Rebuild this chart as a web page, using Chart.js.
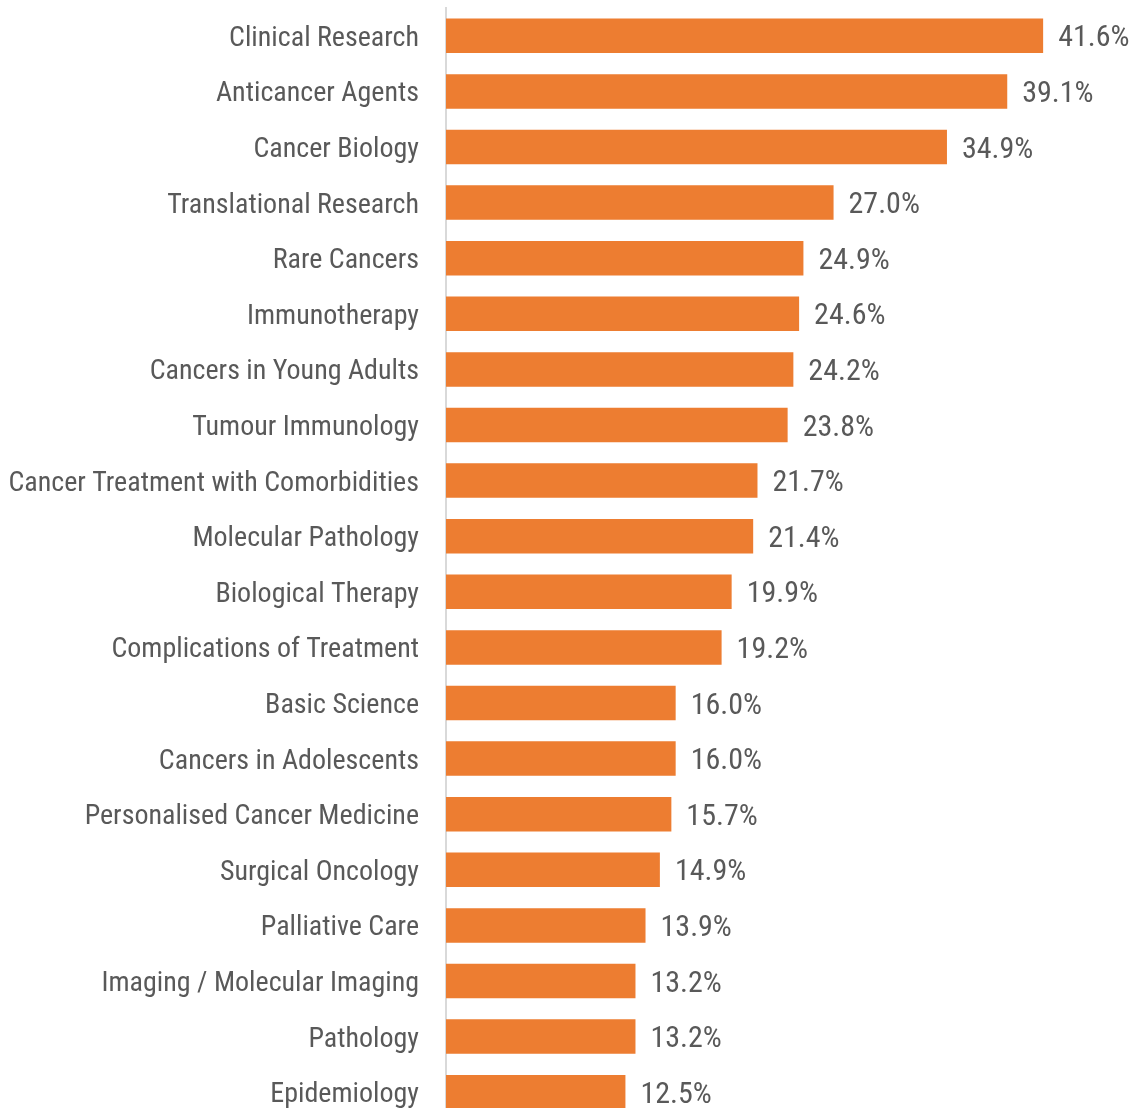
<!DOCTYPE html>
<html>
<head>
<meta charset="utf-8">
<script src="https://cdn.jsdelivr.net/npm/chart.js@4.4.0/dist/chart.umd.min.js"></script>
<style>
    html, body { margin: 0; padding: 0; background: #fff; overflow: hidden; }
    #wrap { width: 1135px; height: 1122px; position: relative; }
</style>
</head>
<body>
<div id="wrap"><canvas id="topicChart"></canvas></div>
<script>
// Share of respondents per topic (%)
const topics = [
    'Clinical Research', 'Anticancer Agents', 'Cancer Biology', 'Translational Research',
    'Rare Cancers', 'Immunotherapy', 'Cancers in Young Adults', 'Tumour Immunology',
    'Cancer Treatment with Comorbidities', 'Molecular Pathology', 'Biological Therapy',
    'Complications of Treatment', 'Basic Science', 'Cancers in Adolescents',
    'Personalised Cancer Medicine', 'Surgical Oncology', 'Palliative Care',
    'Imaging / Molecular Imaging', 'Pathology', 'Epidemiology'
];
const shares = [41.6, 39.1, 34.9, 27.0, 24.9, 24.6, 24.2, 23.8, 21.7, 21.4,
                19.9, 19.2, 16.0, 16.0, 15.7, 14.9, 13.9, 13.2, 13.2, 12.5];

const FONT = '"Roboto Condensed", sans-serif';
const TEXT = '#595959';

// Draw the value labels next to each bar
const valueLabels = {
    id: 'valueLabels',
    afterDatasetsDraw(chart) {
        const ctx = chart.ctx;
        const meta = chart.getDatasetMeta(0);
        ctx.save();
        ctx.font = '30px ' + FONT;
        ctx.fillStyle = TEXT;
        ctx.textAlign = 'left';
        ctx.textBaseline = 'middle';
        meta.data.forEach((bar, i) => {
            ctx.fillText(shares[i].toFixed(1) + '%', bar.x + 15, bar.y + 3);
        });
        ctx.restore();
    }
};

const ctx = document.getElementById('topicChart').getContext('2d');
new Chart(ctx, {
    type: 'bar',
    data: {
        labels: topics,
        datasets: [{
            data: shares,
            backgroundColor: '#ED7D31',
            borderWidth: 0,
            categoryPercentage: 1,
            barPercentage: 0.62
        }]
    },
    options: {
        indexAxis: 'y',
        responsive: true,
        maintainAspectRatio: false,
        animation: false,
        layout: { padding: { top: 8, bottom: 2, left: 0, right: 0 } },
        plugins: {
            legend: { display: false },
            tooltip: { enabled: false }
        },
        scales: {
            x: {
                display: false,
                min: 0,
                max: 48
            },
            y: {
                grid: { display: false, drawTicks: false },
                border: { display: true, color: '#d9d9d9', width: 2 },
                ticks: {
                    color: TEXT,
                    font: { family: FONT, size: 28 },
                    padding: 27,
                    labelOffset: 3,
                    autoSkip: false
                },
                afterFit(scale) {
                    scale.width = 446;
                    scale.paddingTop = 0;
                    scale.paddingBottom = 0;
                }
            }
        }
    },
    plugins: [valueLabels]
});
</script>
</body>
</html>
